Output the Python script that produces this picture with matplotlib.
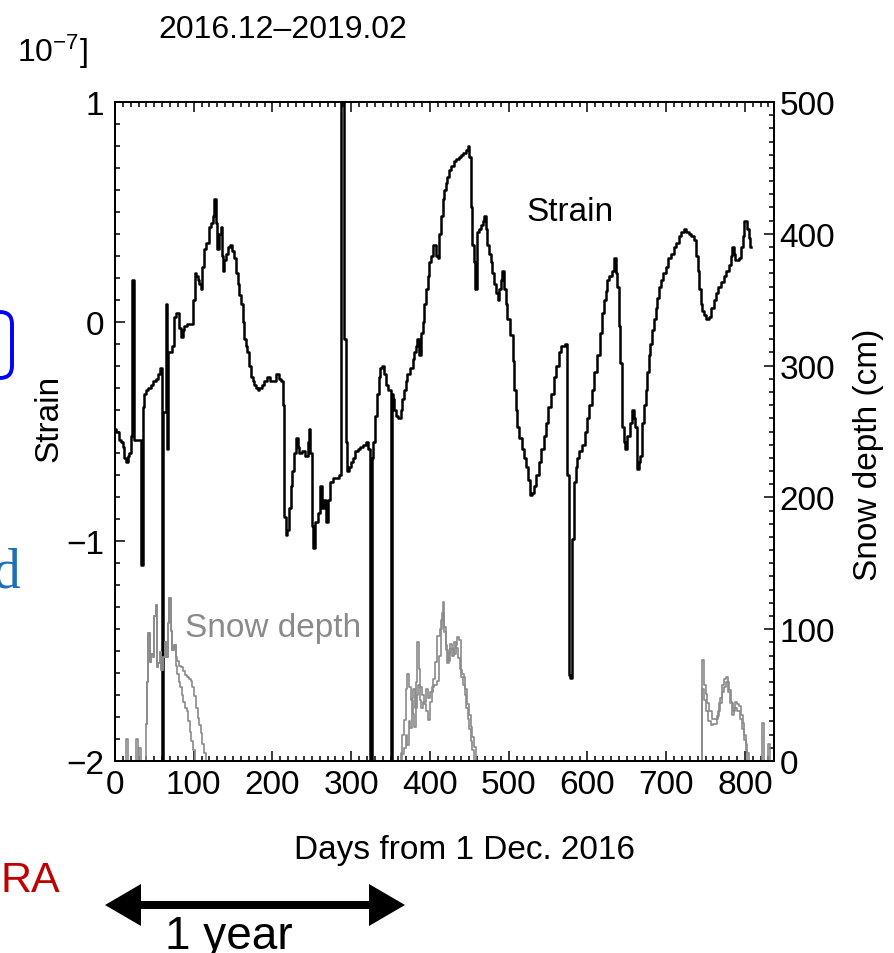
import numpy as np
import matplotlib.pyplot as plt
from matplotlib.patches import FancyArrow, FancyBboxPatch
from matplotlib.ticker import MultipleLocator

plt.rcParams['font.family'] = ['Liberation Sans', 'DejaVu Sans']
plt.rcParams['mathtext.fontset'] = 'custom'
plt.rcParams['mathtext.rm'] = 'Liberation Sans'
plt.rcParams['mathtext.it'] = 'Liberation Sans'

# strain record [1e-7], days from 1 Dec. 2016
strain_day = [0, 3, 6, 9, 11, 13, 15, 17, 19, 21, 23, 24, 25, 28, 32, 34, 35, 36, 38, 40,
              44, 47, 50, 53, 56, 59, 61, 62, 64, 66, 67, 68, 70, 74, 76, 78, 80, 83, 85, 87,
              89, 93, 97, 100, 102, 104, 106, 108, 110, 112, 114, 117, 121, 123, 125, 127, 129, 131, 133, 135,
              137, 138, 140, 142, 145, 147, 150, 152, 155, 157, 159, 161, 163, 165, 167, 169, 171, 174, 176, 178,
              180, 182, 185, 188, 191, 195, 199, 203, 207, 210, 212, 214, 216, 218, 220, 222, 224, 226, 228, 231,
              233, 235, 239, 243, 246, 247, 249, 251, 253, 256, 259, 262, 265, 267, 269, 272, 275, 279, 282, 286,
              288, 290, 292, 294, 296, 298, 301, 303, 307, 310, 313, 317, 320, 323, 324, 325, 327, 329, 332, 334,
              336, 338, 341, 343, 345, 349, 351, 352, 353, 356, 358, 362, 364, 366, 368, 370, 373, 377, 379, 381,
              383, 385, 388, 390, 392, 394, 396, 398, 400, 403, 406, 409, 411, 413, 415, 417, 419, 421, 423, 425,
              428, 432, 435, 438, 441, 444, 447, 449, 451, 453, 455, 456, 458, 461, 463, 466, 468, 470, 472, 474,
              476, 478, 480, 482, 485, 487, 489, 491, 493, 495, 497, 500, 504, 506, 508, 510, 512, 515, 518, 521,
              523, 526, 529, 531, 533, 536, 540, 543, 546, 549, 552, 555, 559, 562, 565, 569, 573, 575, 577, 580,
              582, 584, 586, 588, 591, 595, 598, 601, 604, 607, 610, 614, 617, 620, 622, 624, 627, 629, 633, 635,
              637, 639, 641, 643, 645, 647, 649, 652, 656, 658, 660, 662, 664, 666, 668, 671, 673, 675, 677, 679,
              681, 684, 686, 688, 690, 692, 695, 698, 701, 705, 708, 711, 714, 718, 721, 724, 727, 730, 733, 737,
              739, 741, 743, 745, 747, 749, 752, 756, 759, 762, 765, 768, 771, 775, 778, 781, 783, 785, 787, 789,
              792, 794, 796, 798, 801, 804, 806, 808]
strain_val = [-0.49, -0.50, -0.54, -0.55, -0.57, -0.62, -0.64, -0.61, -0.60, -0.52, 0.19, 0.19, -0.54, -0.54, -0.54, -1.11, -1.11, -0.39, -0.33, -0.31,
              -0.30, -0.29, -0.27, -0.26, -0.24, -0.21, -2.10, -0.41, -0.41, 0.08, -0.58, -0.14, -0.14, -0.11, 0.02, 0.04, 0.04, -0.03, -0.07, -0.04,
              -0.02, -0.01, -0.01, 0.10, 0.22, 0.21, 0.19, 0.17, 0.15, 0.25, 0.33, 0.36, 0.43, 0.45, 0.48, 0.56, 0.45, 0.33, 0.40, 0.43,
              0.30, 0.23, 0.28, 0.31, 0.34, 0.35, 0.32, 0.29, 0.22, 0.17, 0.12, 0.08, 0.00, -0.08, -0.11, -0.14, -0.20, -0.25, -0.27, -0.29,
              -0.30, -0.31, -0.30, -0.29, -0.27, -0.25, -0.27, -0.27, -0.24, -0.26, -0.27, -0.38, -0.89, -0.97, -0.95, -0.85, -0.75, -0.68, -0.60, -0.53,
              -0.57, -0.60, -0.59, -0.61, -0.55, -0.49, -0.60, -0.93, -1.03, -0.91, -0.87, -0.75, -0.85, -0.81, -0.91, -0.81, -0.73, -0.71, -0.71, -0.70,
              1.20, 1.20, -0.08, -0.55, -0.68, -0.66, -0.64, -0.62, -0.59, -0.58, -0.57, -0.56, -0.55, -0.58, -2.10, -2.10, -0.62, -0.55, -0.43, -0.33,
              -0.25, -0.21, -0.20, -0.24, -0.29, -0.31, -2.10, -0.33, -0.35, -0.40, -0.43, -0.44, -0.40, -0.35, -0.31, -0.27, -0.24, -0.21, -0.17, -0.14,
              -0.11, -0.08, -0.15, -0.05, 0.00, 0.08, 0.15, 0.21, 0.27, 0.30, 0.35, 0.30, 0.29, 0.40, 0.48, 0.56, 0.60, 0.63, 0.66, 0.69,
              0.71, 0.73, 0.74, 0.75, 0.76, 0.77, 0.78, 0.80, 0.75, 0.52, 0.35, 0.27, 0.15, 0.41, 0.42, 0.44, 0.46, 0.48, 0.42, 0.35,
              0.31, 0.27, 0.22, 0.17, 0.13, 0.10, 0.15, 0.19, 0.23, 0.15, 0.08, 0.01, -0.06, -0.18, -0.31, -0.40, -0.48, -0.53, -0.58, -0.62,
              -0.66, -0.72, -0.79, -0.78, -0.75, -0.70, -0.64, -0.58, -0.52, -0.46, -0.39, -0.33, -0.25, -0.20, -0.14, -0.11, -0.10, -0.70, -1.61, -1.62,
              -0.99, -0.73, -0.66, -0.62, -0.59, -0.56, -0.50, -0.44, -0.38, -0.31, -0.23, -0.15, -0.05, 0.04, 0.10, 0.14, 0.19, 0.21, 0.23, 0.29,
              0.22, 0.16, -0.02, -0.19, -0.48, -0.55, -0.58, -0.52, -0.46, -0.40, -0.44, -0.48, -0.67, -0.64, -0.61, -0.46, -0.38, -0.31, -0.23, -0.15,
              -0.10, -0.04, 0.01, 0.06, 0.11, 0.16, 0.19, 0.22, 0.25, 0.29, 0.31, 0.34, 0.36, 0.39, 0.41, 0.42, 0.41, 0.40, 0.39, 0.37,
              0.30, 0.23, 0.15, 0.08, 0.05, 0.03, 0.01, 0.02, 0.06, 0.10, 0.13, 0.16, 0.18, 0.21, 0.23, 0.26, 0.30, 0.34, 0.31, 0.28,
              0.28, 0.29, 0.34, 0.39, 0.46, 0.42, 0.38, 0.34]

# snow depth [cm], two gauges
snow_a_day = [0, 13, 15, 17, 26, 28, 30, 32, 34, 38, 40, 42, 43, 45, 47, 49, 51, 52, 54, 56,
              58, 60, 62, 64, 66, 68, 70, 72, 74, 76, 78, 80, 82, 85, 88, 91, 93, 95, 97, 99,
              101, 104, 106, 108, 110, 112, 114, 116, 362, 364, 366, 368, 370, 372, 374, 377, 379, 381, 383, 385,
              387, 389, 391, 394, 396, 398, 401, 404, 407, 410, 412, 415, 417, 419, 421, 423, 425, 427, 430, 432,
              434, 436, 438, 440, 442, 444, 446, 449, 451, 453, 455, 457, 459, 745, 747, 749, 751, 753, 756, 760,
              764, 768, 770, 772, 775, 777, 779, 781, 783, 785, 787, 789, 792, 794, 796, 798, 800, 802, 804, 806,
              821, 823, 825, 829, 831, 833, 837]
snow_a_cm = [0, 0, 17, 0, 0, 17, 0, 10, 0, 0, 28, 60, 97, 75, 81, 79, 110, 118, 71, 74,
             83, 69, 79, 90, 79, 105, 124, 99, 84, 88, 79, 76, 72, 71, 68, 65, 64, 62, 61, 56,
             49, 40, 33, 27, 21, 13, 6, 0, 0, 6, 20, 31, 55, 66, 56, 46, 36, 26, 60, 90,
             70, 56, 50, 43, 38, 31, 45, 56, 58, 61, 80, 107, 121, 102, 88, 74, 82, 89, 85, 81,
             88, 94, 92, 69, 66, 64, 55, 43, 35, 26, 18, 11, 0, 0, 77, 58, 51, 44, 38, 32,
             32, 38, 48, 58, 62, 64, 60, 54, 45, 35, 40, 45, 43, 42, 35, 29, 20, 13, 6, 0,
             0, 29, 0, 0, 13, 0, 0]
snow_b_day = [40, 42, 43, 45, 47, 49, 51, 52, 54, 56, 58, 60, 62, 64, 66, 68, 70, 72, 74, 76,
              78, 80, 82, 84, 86, 88, 90, 92, 94, 96, 98, 100, 102, 364, 366, 368, 370, 372, 374, 376,
              378, 380, 382, 384, 386, 388, 390, 393, 396, 399, 402, 405, 408, 411, 414, 417, 419, 421, 424, 426,
              429, 432, 435, 437, 439, 441, 443, 445, 447, 449, 451, 453, 455, 457, 745, 747, 749, 752, 755, 758,
              762, 766, 769, 772, 775, 778, 780, 783, 786, 789, 792, 795, 798, 800, 802, 804]
snow_b_cm = [28, 60, 97, 75, 81, 79, 110, 118, 71, 74, 83, 69, 79, 90, 79, 105, 124, 99, 84, 88,
             72, 66, 60, 56, 50, 45, 40, 38, 30, 22, 15, 8, 0, 0, 5, 10, 20, 12, 30, 25,
             48, 55, 40, 50, 58, 46, 40, 45, 55, 48, 52, 62, 75, 95, 100, 112, 98, 84, 76, 85,
             80, 90, 86, 78, 70, 64, 58, 50, 40, 32, 24, 15, 8, 0, 0, 55, 46, 38, 30, 27,
             28, 34, 44, 52, 56, 60, 52, 44, 38, 40, 38, 32, 24, 16, 8, 0]

x_ticks = [0, 100, 200, 300, 400, 500, 600, 700, 800]
strain_ticks = [-2, -1, 0, 1]
strain_labels = ['\u22122', '\u22121', '0', '1']
snow_ticks = [0, 100, 200, 300, 400, 500]

fig = plt.figure(figsize=(8.94, 9.54), dpi=100)

# slide fragments around the panel, in pixel units
deco = fig.add_axes([0, 0, 1, 1], zorder=-1)
deco.set_xlim(0, 894)
deco.set_ylim(954, 0)
deco.axis('off')
deco.add_patch(FancyBboxPatch((-60, 313), 72, 66, boxstyle='round,pad=0,rounding_size=12',
                              ec='#0000ff', fc='none', lw=2.8))
deco.text(21, 588, 'd', family=['Liberation Serif', 'DejaVu Serif'], fontsize=40,
          color='#1f6fb8', ha='right', va='baseline')
deco.text(60, 892, 'RA', fontsize=31, color='#c00000', ha='right', va='baseline')
deco.add_patch(FancyArrow(255, 906, 150, 0, width=8, head_width=42, head_length=36,
                          length_includes_head=True, color='black', lw=0))
deco.add_patch(FancyArrow(255, 906, -150, 0, width=8, head_width=42, head_length=36,
                          length_includes_head=True, color='black', lw=0))
deco.text(165, 949, '1 year', fontsize=33, ha='left', va='baseline')
deco.text(17, 62, r'10$^{-7}$]', fontsize=23, ha='left', va='baseline')
deco.text(283, 38, '2016.12\u20132019.02', fontsize=23, ha='center', va='baseline')

ax = fig.add_axes([115 / 894, 192 / 954, 659 / 894, 659 / 954])
ax2 = ax.twinx()

ax.plot(strain_day, strain_val, color='black', lw=1.8, drawstyle='steps-mid')
ax2.plot(snow_a_day, snow_a_cm, color='#8a8a8a', lw=1.2, drawstyle='steps-mid')
ax2.plot(snow_b_day, snow_b_cm, color='#8a8a8a', lw=1.2, drawstyle='steps-mid')

ax.set_xlim(0, 837)
ax.set_ylim(-2, 1)
ax2.set_ylim(0, 500)

ax.set_xticks(x_ticks)
ax.xaxis.set_minor_locator(MultipleLocator(10))
ax.set_yticks(strain_ticks, labels=strain_labels)
ax.yaxis.set_minor_locator(MultipleLocator(0.1))
ax2.set_yticks(snow_ticks)
ax2.yaxis.set_minor_locator(MultipleLocator(10))

ax.tick_params(which='both', direction='in', top=True, right=False, width=1.1, labelsize=24)
ax.tick_params(which='major', length=7)
ax.tick_params(which='minor', length=3.5)
ax.tick_params(axis='y', pad=8)
ax.tick_params(axis='x', pad=6)
ax2.tick_params(which='both', direction='in', width=1.1, labelsize=24, pad=4)
ax2.tick_params(which='major', length=7)
ax2.tick_params(which='minor', length=3.5)
for a in (ax, ax2):
    for s in a.spines.values():
        s.set_linewidth(1.4)

ax.set_xlabel('Days from 1 Dec. 2016', fontsize=24)
ax.xaxis.set_label_coords(0.531, -0.111)
ax.set_ylabel('Strain', fontsize=24)
ax.yaxis.set_label_coords(-0.076, 0.522)
ax2.set_ylabel('Snow depth (cm)', fontsize=24)
ax2.yaxis.set_label_coords(1.12, 0.466)

ax.text(578, 0.5, 'Strain', fontsize=24, ha='center', va='center')
ax.text(89, -1.39, 'Snow depth', fontsize=24, color='#8a8a8a', ha='left', va='center')

fig.savefig('out.png', dpi=100)
